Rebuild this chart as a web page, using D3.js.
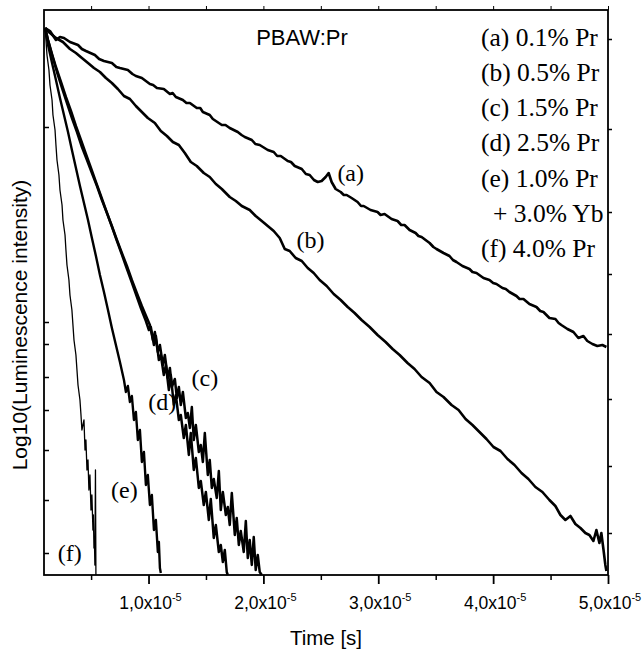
<!DOCTYPE html>
<html>
<head>
<meta charset="utf-8">
<script src="https://cdn.jsdelivr.net/npm/d3@7"></script>
<style>
  body { margin: 0; background: #fff; }
  svg { display: block; }
  .sans { font-family: "Liberation Sans", Arial, sans-serif; }
  .serif { font-family: "Liberation Serif", "Times New Roman", serif; }
</style>
</head>
<body>
<svg id="chart" width="644" height="655"></svg>
<script>
// time in microseconds, value = log10 of normalised intensity
const curveA = [[1.0,-0.005],[1.42,-0.02],[1.94,-0.065],[2.29,-0.05],[2.64,-0.055],[3.16,-0.075],[3.86,-0.09],[4.2,-0.11],[4.55,-0.12],[5.33,-0.14],[5.7,-0.16],[6.12,-0.17],[6.81,-0.18],[7.2,-0.2],[7.51,-0.205],[8.2,-0.215],[8.6,-0.235],[8.9,-0.245],[9.42,-0.255],[10.12,-0.285],[10.4,-0.29],[10.73,-0.305],[11.33,-0.31],[11.86,-0.335],[12.1,-0.33],[12.38,-0.35],[12.99,-0.365],[13.3,-0.38],[13.6,-0.38],[14.2,-0.405],[14.5,-0.405],[14.73,-0.425],[15.33,-0.44],[15.6,-0.46],[15.86,-0.47],[16.38,-0.49],[16.7,-0.49],[17.07,-0.505],[17.77,-0.525],[18.1,-0.54],[18.38,-0.55],[18.99,-0.565],[19.3,-0.585],[19.68,-0.59],[20.38,-0.615],[20.9,-0.625],[21.2,-0.645],[21.51,-0.645],[22.12,-0.67],[22.4,-0.675],[22.73,-0.695],[23.34,-0.71],[23.7,-0.735],[24.03,-0.74],[24.4,-0.765],[24.73,-0.775],[25.07,-0.77],[25.42,-0.75],[25.68,-0.73],[25.94,-0.775],[26.29,-0.81],[26.73,-0.825],[27.0,-0.84],[27.25,-0.84],[27.68,-0.855],[28.2,-0.875],[28.5,-0.895],[28.73,-0.895],[29.33,-0.915],[29.94,-0.925],[30.2,-0.94],[30.55,-0.935],[31.16,-0.96],[31.68,-0.97],[32.0,-0.99],[32.29,-0.99],[32.73,-1.015],[33.25,-1.03],[33.5,-1.045],[33.77,-1.05],[34.47,-1.08],[34.8,-1.1],[35.07,-1.11],[35.68,-1.13],[36.2,-1.145],[36.5,-1.165],[36.81,-1.175],[37.33,-1.195],[37.94,-1.21],[38.2,-1.225],[38.55,-1.23],[39.16,-1.255],[39.68,-1.265],[40.0,-1.28],[40.29,-1.285],[40.81,-1.305],[41.1,-1.31],[41.42,-1.325],[42.03,-1.345],[42.3,-1.36],[42.64,-1.36],[43.16,-1.385],[43.77,-1.4],[44.1,-1.42],[44.38,-1.425],[44.9,-1.455],[45.42,-1.46],[45.7,-1.48],[45.94,-1.49],[46.47,-1.51],[46.99,-1.525],[47.42,-1.555],[47.86,-1.545],[48.2,-1.57],[48.64,-1.585],[49.07,-1.595],[49.51,-1.59],[49.86,-1.6]];

const curveB = [[1.0,-0.005],[1.42,-0.03],[1.94,-0.055],[2.55,-0.075],[3.16,-0.11],[3.68,-0.13],[4.2,-0.155],[4.73,-0.18],[5.25,-0.205],[5.77,-0.225],[6.29,-0.255],[6.81,-0.28],[7.33,-0.31],[7.86,-0.345],[8.38,-0.36],[8.9,-0.395],[9.42,-0.425],[9.94,-0.455],[10.55,-0.48],[11.07,-0.52],[11.6,-0.545],[12.12,-0.575],[12.64,-0.59],[13.16,-0.63],[13.68,-0.675],[14.2,-0.695],[14.81,-0.73],[15.33,-0.75],[15.86,-0.785],[16.38,-0.81],[17.07,-0.85],[17.6,-0.87],[18.12,-0.895],[18.81,-0.915],[19.33,-0.945],[19.86,-0.97],[20.38,-0.995],[20.9,-1.02],[21.42,-1.055],[21.86,-1.11],[22.29,-1.12],[22.81,-1.155],[23.34,-1.17],[23.86,-1.205],[24.38,-1.23],[24.9,-1.265],[25.51,-1.295],[26.12,-1.335],[26.73,-1.365],[27.34,-1.4],[27.94,-1.43],[28.55,-1.465],[29.25,-1.5],[29.94,-1.54],[30.64,-1.575],[31.25,-1.61],[31.86,-1.64],[32.55,-1.68],[33.16,-1.71],[33.77,-1.75],[34.47,-1.78],[35.07,-1.825],[35.68,-1.85],[36.38,-1.89],[36.99,-1.915],[37.6,-1.96],[38.2,-1.99],[38.81,-2.025],[39.42,-2.06],[40.03,-2.1],[40.64,-2.12],[41.25,-2.16],[41.86,-2.19],[42.47,-2.23],[43.07,-2.26],[43.68,-2.3],[44.29,-2.325],[44.9,-2.365],[45.42,-2.395],[45.86,-2.44],[46.29,-2.465],[46.73,-2.445],[47.16,-2.485],[47.6,-2.505],[48.03,-2.53],[48.38,-2.54],[48.73,-2.57],[48.99,-2.515],[49.25,-2.58],[49.42,-2.53],[49.6,-2.61],[49.77,-2.69],[49.86,-2.72]];

const curveC = [[1.0,-0.005],[1.25,-0.065],[1.6,-0.14],[2.03,-0.225],[2.47,-0.305],[2.9,-0.38],[3.33,-0.455],[3.77,-0.525],[4.2,-0.6],[4.64,-0.665],[5.07,-0.73],[5.51,-0.795],[5.94,-0.865],[6.38,-0.93],[6.81,-0.995],[7.25,-1.065],[7.68,-1.13],[8.12,-1.195],[8.55,-1.265],[8.98,-1.33],[9.42,-1.395],[9.86,-1.455],[10.12,-1.49],[10.38,-1.565],[10.55,-1.525],[10.81,-1.625],[10.99,-1.59],[11.25,-1.69],[11.42,-1.64],[11.68,-1.755],[11.86,-1.705],[12.03,-1.8],[12.29,-1.76],[12.47,-1.855],[12.64,-1.8],[12.81,-1.89],[12.99,-1.825],[13.25,-1.955],[13.42,-1.93],[13.6,-2.005],[13.77,-1.9],[13.94,-2.065],[14.12,-1.99],[14.38,-2.125],[14.55,-2.09],[14.73,-2.175],[14.9,-2.03],[15.16,-2.24],[15.33,-2.165],[15.51,-2.305],[15.68,-2.26],[15.94,-2.355],[16.12,-2.22],[16.29,-2.415],[16.47,-2.325],[16.73,-2.44],[16.9,-2.4],[17.07,-2.49],[17.25,-2.33],[17.51,-2.54],[17.68,-2.455],[17.86,-2.59],[18.03,-2.52],[18.29,-2.625],[18.47,-2.47],[18.64,-2.655],[18.81,-2.565],[18.99,-2.69],[19.16,-2.55],[19.33,-2.715],[19.51,-2.64],[19.68,-2.725],[19.86,-2.74]];

const curveD = [[1.0,-0.005],[1.25,-0.065],[1.6,-0.135],[1.94,-0.2],[2.38,-0.275],[2.81,-0.35],[3.25,-0.42],[3.68,-0.495],[4.12,-0.565],[4.55,-0.635],[4.99,-0.705],[5.42,-0.775],[5.86,-0.845],[6.29,-0.915],[6.73,-0.985],[7.16,-1.055],[7.6,-1.125],[8.03,-1.195],[8.47,-1.265],[8.9,-1.335],[9.33,-1.405],[9.77,-1.47],[10.03,-1.515],[10.2,-1.5],[10.47,-1.59],[10.64,-1.545],[10.9,-1.665],[11.07,-1.64],[11.33,-1.74],[11.51,-1.69],[11.77,-1.815],[11.94,-1.74],[12.2,-1.89],[12.38,-1.84],[12.64,-1.965],[12.81,-1.94],[13.07,-2.055],[13.25,-1.99],[13.51,-2.14],[13.68,-2.03],[13.94,-2.215],[14.12,-2.155],[14.38,-2.305],[14.55,-2.27],[14.81,-2.39],[14.99,-2.325],[15.25,-2.465],[15.42,-2.36],[15.68,-2.555],[15.86,-2.49],[16.12,-2.625],[16.29,-2.59],[16.47,-2.675],[16.64,-2.615],[16.81,-2.725],[16.9,-2.74]];

const curveE = [[1.0,-0.005],[1.25,-0.09],[1.6,-0.18],[1.94,-0.265],[2.29,-0.355],[2.64,-0.44],[2.99,-0.525],[3.33,-0.615],[3.68,-0.705],[4.03,-0.795],[4.38,-0.88],[4.73,-0.965],[5.07,-1.055],[5.42,-1.145],[5.77,-1.24],[6.12,-1.325],[6.47,-1.415],[6.81,-1.505],[7.16,-1.59],[7.51,-1.675],[7.86,-1.765],[8.03,-1.825],[8.2,-1.795],[8.38,-1.875],[8.55,-1.845],[8.73,-1.965],[8.9,-1.925],[9.07,-2.065],[9.25,-2.015],[9.42,-2.175],[9.6,-2.125],[9.77,-2.29],[9.94,-2.24],[10.12,-2.39],[10.29,-2.34],[10.47,-2.515],[10.64,-2.465],[10.81,-2.625],[10.9,-2.575],[10.99,-2.705],[11.07,-2.73]];

const curveF = [[1.0,-0.005],[1.07,-0.065],[1.16,-0.14],[1.33,-0.215],[1.42,-0.29],[1.6,-0.365],[1.68,-0.44],[1.86,-0.515],[1.94,-0.59],[2.03,-0.665],[2.2,-0.74],[2.29,-0.815],[2.47,-0.89],[2.55,-0.965],[2.73,-1.04],[2.81,-1.115],[2.9,-1.19],[3.07,-1.265],[3.16,-1.34],[3.33,-1.415],[3.42,-1.49],[3.51,-1.565],[3.68,-1.64],[3.77,-1.715],[3.86,-1.79],[4.03,-1.865],[4.12,-1.94],[4.2,-2.015],[4.38,-1.965],[4.47,-2.115],[4.55,-2.065],[4.64,-2.215],[4.73,-2.165],[4.81,-2.315],[4.9,-2.24],[4.99,-2.415],[5.07,-2.34],[5.16,-2.515],[5.2,-2.44],[5.25,-2.605],[5.29,-2.565],[5.33,-2.69],[5.38,-2.215],[5.42,-2.74]];

const curveLabels = [
  { text: "(a)", t: 27.6, v: -0.73 },
  { text: "(b)", t: 24.1, v: -1.065 },
  { text: "(c)", t: 14.9, v: -1.755 },
  { text: "(d)", t: 11.2, v: -1.875 },
  { text: "(e)", t: 7.9, v: -2.315 },
  { text: "(f)", t: 3.15, v: -2.63 }
];

const legendLines = ["(a) 0.1% Pr", "(b) 0.5% Pr", "(c) 1.5% Pr", "(d) 2.5% Pr", "(e) 1.0% Pr", "+ 3.0% Yb", "(f) 4.0% Pr"];
const title = "PBAW:Pr";

const xMajor = [1e-5, 2e-5, 3e-5, 4e-5, 5e-5];
const xMinor = [0.5e-5, 1.5e-5, 2.5e-5, 3.5e-5, 4.5e-5];
const xTickText = ["1,0", "2,0", "3,0", "4,0", "5,0"];
const yTicksLeft = [-0.5, -1.475, -1.585, -1.75, -1.915, -2.115, -2.365, -2.63];
const yTicksRight = [-0.06, -0.51, -0.925, -1.235, -1.535, -1.86, -2.195, -2.53];

// ---------- layout ----------
const svg = d3.select("#chart");
const plotLeft = 44, plotRight = 608, plotTop = 10, plotBottom = 575;

const x = d3.scaleLinear().domain([0.09e-5, 5e-5]).range([plotLeft, plotRight]);
const y = d3.scaleLinear().domain([-2.74, 0.085]).range([plotBottom, plotTop]);

const line = d3.line()
  .x((d) => x(d[0] * 1e-6))
  .y((d) => y(d[1]));

// curves
const curves = [
  { data: curveA, w: 2.6 },
  { data: curveB, w: 2.6 },
  { data: curveC, w: 2.5 },
  { data: curveD, w: 2.5 },
  { data: curveE, w: 2.4 },
  { data: curveF, w: 1.3 }
];

svg.append("g")
  .selectAll("path")
  .data(curves)
  .join("path")
  .attr("d", (c) => line(c.data))
  .attr("fill", "none")
  .attr("stroke", "#000")
  .attr("stroke-width", (c) => c.w)
  .attr("stroke-linejoin", "round");

// frame
svg.append("rect")
  .attr("x", plotLeft).attr("y", plotTop)
  .attr("width", plotRight - plotLeft).attr("height", plotBottom - plotTop)
  .attr("fill", "none").attr("stroke", "#000").attr("stroke-width", 1.8);

// x axes
const xAxisMajor = (g) => g
  .attr("transform", `translate(0,${plotBottom})`)
  .call(d3.axisBottom(x).tickValues(xMajor).tickSize(9).tickSizeOuter(0).tickFormat(""))
  .call((g) => g.select(".domain").remove())
  .call((g) => g.selectAll(".tick line").attr("stroke-width", 1.8));

const xAxisMinor = (g) => g
  .attr("transform", `translate(0,${plotBottom})`)
  .call(d3.axisBottom(x).tickValues(xMinor).tickSize(5).tickSizeOuter(0).tickFormat(""))
  .call((g) => g.select(".domain").remove())
  .call((g) => g.selectAll(".tick line").attr("stroke-width", 1.5));

svg.append("g").call(xAxisMajor);
svg.append("g").call(xAxisMinor);

// top mirrored ticks
svg.append("g")
  .attr("transform", `translate(0,${plotTop})`)
  .call(d3.axisTop(x).tickValues(xMajor.concat(xMinor)).tickSize(4).tickSizeOuter(0).tickFormat(""))
  .call((g) => g.select(".domain").remove());

// y ticks (no labels)
svg.append("g")
  .attr("transform", `translate(${plotLeft},0)`)
  .call(d3.axisLeft(y).tickValues(yTicksLeft).tickSize(-5).tickSizeOuter(0).tickFormat(""))
  .call((g) => g.select(".domain").remove())
  .call((g) => g.selectAll(".tick line").attr("stroke-width", 1.5));

svg.append("g")
  .attr("transform", `translate(${plotRight},0)`)
  .call(d3.axisRight(y).tickValues(yTicksRight).tickSize(4).tickSizeOuter(0).tickFormat(""))
  .call((g) => g.select(".domain").remove())
  .call((g) => g.selectAll(".tick line").attr("stroke-width", 1.5));

// x tick labels with superscript
const xl = svg.append("g").attr("class", "sans")
  .selectAll("text")
  .data(xMajor)
  .join("text")
  .attr("x", (d) => x(d) + 2)
  .attr("y", 609)
  .attr("text-anchor", "middle")
  .attr("font-size", 17.5);
xl.append("tspan").text((d, i) => xTickText[i] + "x10");
xl.append("tspan").attr("font-size", 11).attr("dy", -8).text("-5");

// axis titles
svg.append("text").attr("class", "sans")
  .attr("x", (plotLeft + plotRight) / 2).attr("y", 645)
  .attr("text-anchor", "middle").attr("font-size", 20.5)
  .text("Time [s]");

svg.append("text").attr("class", "sans")
  .attr("transform", `translate(27,${325}) rotate(-90)`)
  .attr("text-anchor", "middle").attr("font-size", 21)
  .text("Log10(Luminescence intensity)");

// title and legend
svg.append("text").attr("class", "sans")
  .attr("x", 302).attr("y", 37)
  .attr("text-anchor", "middle").attr("dominant-baseline", "central")
  .attr("font-size", 22)
  .text(title);

svg.append("g").attr("class", "serif")
  .selectAll("text")
  .data(legendLines)
  .join("text")
  .attr("x", (d) => (d.startsWith("+") ? 493 : 481))
  .attr("y", (d, i) => 37 + i * 35.3)
  .attr("dominant-baseline", "central")
  .attr("font-size", 25.5)
  .text((d) => d);

// curve labels
svg.append("g").attr("class", "serif")
  .selectAll("text")
  .data(curveLabels)
  .join("text")
  .attr("x", (d) => x(d.t * 1e-6))
  .attr("y", (d) => y(d.v))
  .attr("text-anchor", "middle")
  .attr("dominant-baseline", "central")
  .attr("font-size", 24)
  .text((d) => d.text);
</script>
</body>
</html>
